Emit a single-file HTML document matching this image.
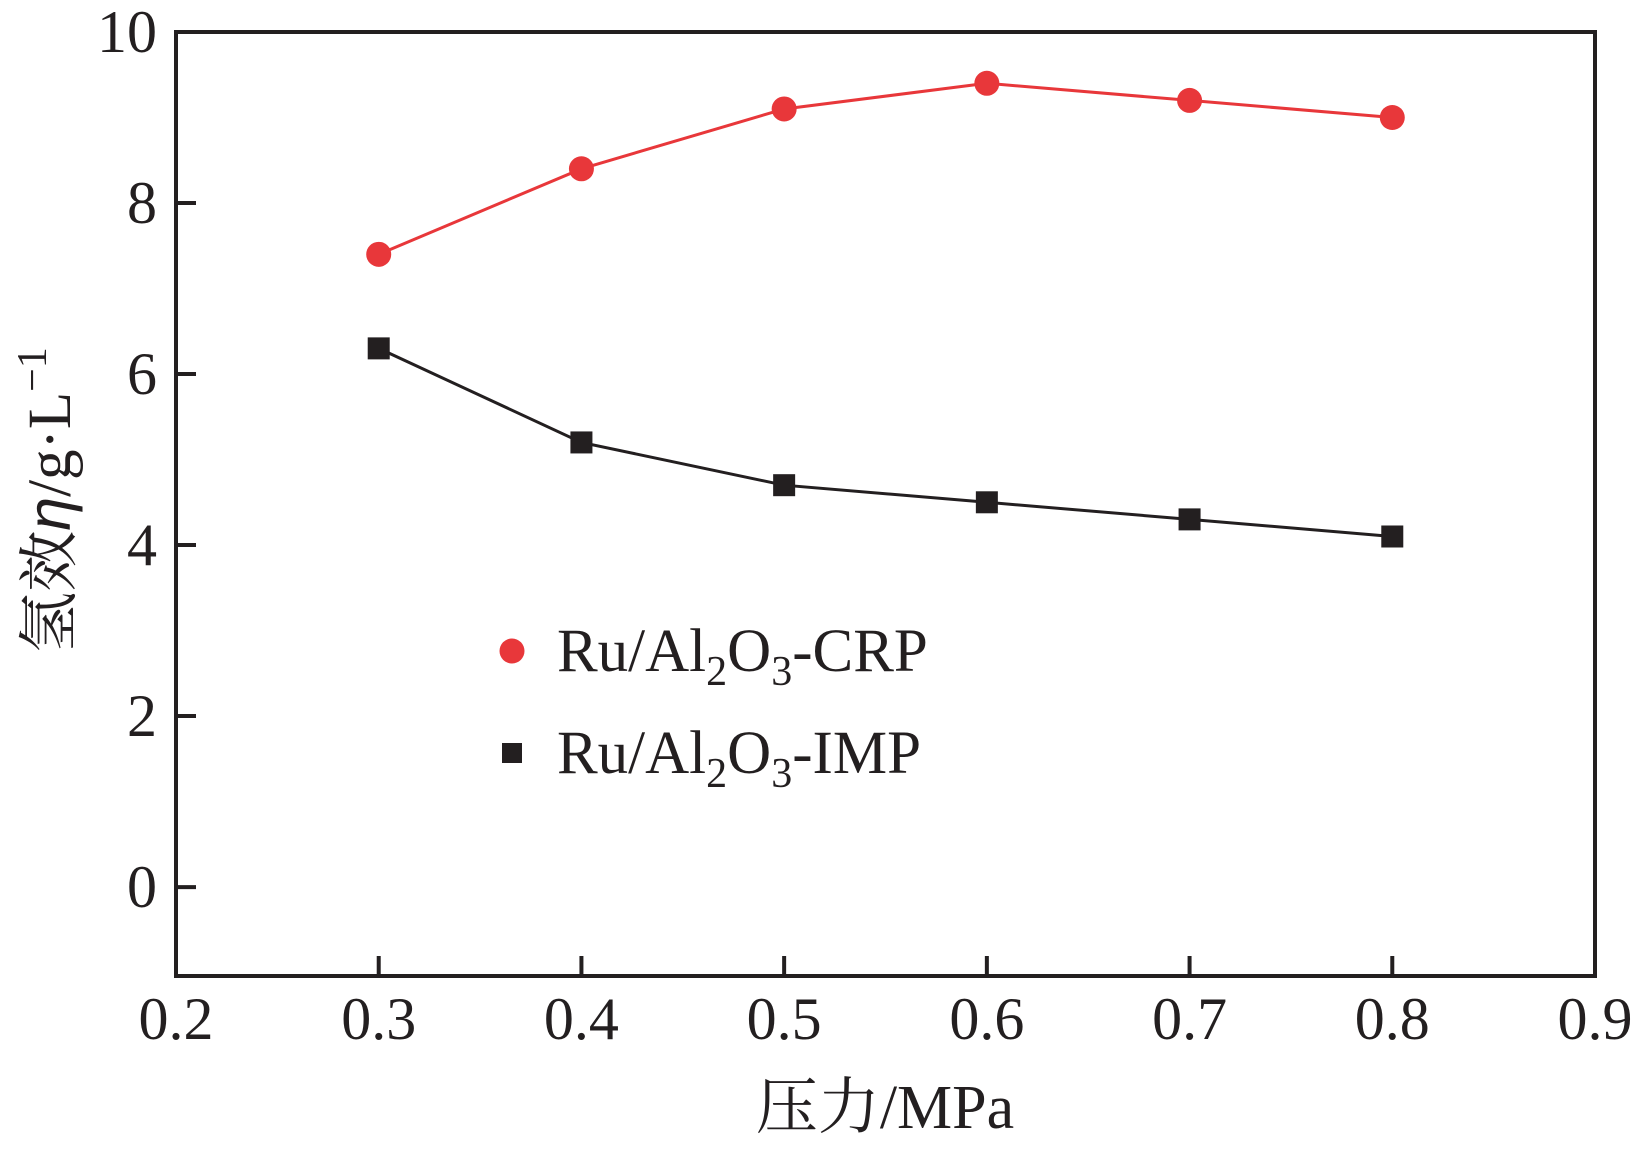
<!DOCTYPE html>
<html><head><meta charset="utf-8"><style>
body{margin:0;background:#fff}
text{font-family:"Liberation Serif","Noto Serif CJK SC",serif;fill:#231f20}
</style></head><body>
<svg id="c" width="1637" height="1144" xmlns="http://www.w3.org/2000/svg"></svg>
<script>
const xCats=[0.3,0.4,0.5,0.6,0.7,0.8];
const crpVals=[7.4,8.4,9.1,9.4,9.2,9.0];
const impVals=[6.3,5.2,4.7,4.5,4.3,4.1];
const xTicks=[0.2,0.3,0.4,0.5,0.6,0.7,0.8,0.9];
const yTicks=[0,2,4,6,8,10];
const L=176,R=1595,T=32,B=976;
const X=v=>L+(v-0.2)/0.7*(R-L);
const Y=v=>T+(10-v)/(10-(-1.04))*(B-T);
const s=document.getElementById('c');const NS='http://www.w3.org/2000/svg';
function mk(t,a,txt){const e=document.createElementNS(NS,t);for(const k in a)e.setAttribute(k,a[k]);if(txt!==undefined)e.textContent=txt;s.appendChild(e);return e;}
let f=mk('rect',{x:L,y:T,width:R-L,height:B-T,fill:'none',stroke:'#231f20','stroke-width':4});


xTicks.forEach(v=>{
 if(v>0.2&&v<0.9){let t=mk('line',{x1:X(v),x2:X(v),y1:B,y2:B-20,stroke:'#231f20','stroke-width':4});}
 let l=mk('text',{x:X(v),y:1039,'font-size':60,'text-anchor':'middle'},v.toFixed(1));
 
 
});
yTicks.forEach(v=>{
 if(v<10){let t=mk('line',{x1:L,x2:L+20,y1:Y(v),y2:Y(v),stroke:'#231f20','stroke-width':4});}
 let l=mk('text',{x:157,y:Y(v)+20,'font-size':60,'text-anchor':'end'},String(v));
 
 
});
function series(vals,color,name,shape){
 let p=mk('polyline',{points:xCats.map((x,i)=>X(x)+','+Y(vals[i])).join(' '),fill:'none',stroke:color,'stroke-width':3});
 
 
 xCats.forEach((x,i)=>{
  let m=shape==='c'?mk('circle',{cx:X(x),cy:Y(vals[i]),r:12.5,fill:color}):mk('rect',{x:X(x)-11,y:Y(vals[i])-11,width:22,height:22,fill:color});
  
  
 });
}
series(crpVals,'#e8373a','crp','c');
series(impVals,'#231f20','imp','s');
let lc=mk('circle',{cx:512,cy:651,r:12.5,fill:'#e8373a'});
let lr=mk('rect',{x:502,y:743,width:20,height:20,fill:'#231f20'});
let t1=mk('text',{x:557,y:671,'font-size':61});t1.innerHTML='Ru/Al<tspan font-size="42" dy="14">2</tspan><tspan dy="-14">O</tspan><tspan font-size="42" dy="14">3</tspan><tspan dy="-14">-CRP</tspan>';

let t2=mk('text',{x:557,y:773,'font-size':61});t2.innerHTML='Ru/Al<tspan font-size="42" dy="14">2</tspan><tspan dy="-14">O</tspan><tspan font-size="42" dy="14">3</tspan><tspan dy="-14">-IMP</tspan>';

let xl=mk('text',{x:885,y:1128,'font-size':62,'text-anchor':'middle'},'压力/MPa');

let yl=mk('text',{x:0,y:0,'font-size':61,'text-anchor':'middle',transform:'translate(70,500) rotate(-90)'});
yl.innerHTML='氢效<tspan font-style="italic" font-family="Liberation Sans,sans-serif">η</tspan>/g·L<tspan font-size="42" dy="-24">−1</tspan>';

</script>
</body></html>
